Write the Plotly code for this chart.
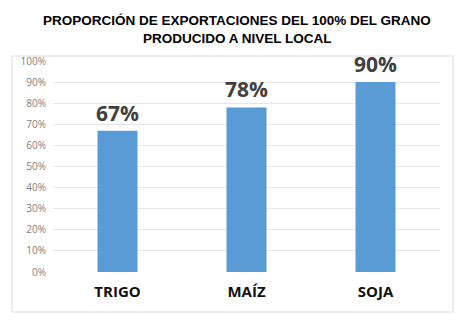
import plotly.graph_objects as go

categories = ["TRIGO", "MAÍZ", "SOJA"]
values = [0.67, 0.78, 0.90]
labels = ["67%", "78%", "90%"]
tick_vals = [i / 10 for i in range(11)]
tick_text = [f"{i*10}%" for i in range(11)]
title_lines = ["PROPORCIÓN DE EXPORTACIONES DEL 100% DEL GRANO", "PRODUCIDO A NIVEL LOCAL"]

W, H = 468, 323
ML, MR, MT, MB = 53, 28, 61, 51
PW = W - ML - MR
PH = H - MT - MB

def py(ypix):
    return (H - MB - ypix) / PH

def px(xpix):
    return (xpix - ML) / PW

fig = go.Figure(go.Bar(
    x=categories, y=values,
    marker=dict(color="#5B9BD5", line=dict(width=0)),
    width=0.31,
))

annotations = []
for c, v, t in zip(categories, values, labels):
    annotations.append(dict(x=c, y=v, xref="x", yref="y", text=t, showarrow=False,
                            yanchor="bottom", yshift=2,
                            font=dict(family="Open Sans, sans-serif", size=21,
                                      color="#404040", weight="bold")))
for i, line in enumerate(title_lines):
    annotations.append(dict(x=px(237), y=py(20 + 18 * i), xref="paper", yref="paper",
                            text=line, showarrow=False, xanchor="center", yanchor="middle",
                            font=dict(family="Liberation Sans, Arial, sans-serif",
                                      size=13.5, color="#000000", weight="bold")))

fig.update_layout(
    width=W, height=H,
    margin=dict(l=ML, r=MR, t=MT, b=MB),
    paper_bgcolor="white", plot_bgcolor="white",
    showlegend=False,
    annotations=annotations,
    xaxis=dict(tickfont=dict(family="Open Sans, sans-serif", size=15, color="#111111", weight="bold"),
               showline=False, ticks="", fixedrange=True, ticklabelstandoff=9),
    yaxis=dict(range=[0, 1.0], tickvals=tick_vals, ticktext=tick_text,
               tickfont=dict(family="Open Sans, sans-serif", size=10, color="#808080"),
               showgrid=True, gridcolor="#E6E6E6", gridwidth=1, zeroline=False,
               showline=False, ticks="", fixedrange=True, ticklabelstandoff=6),
    shapes=[dict(type="rect", xref="paper", yref="paper",
                 x0=px(12), x1=px(453), y0=py(312), y1=py(56),
                 line=dict(color="#D9D9D9", width=1), layer="below")],
)
fig.write_html("out.html")
